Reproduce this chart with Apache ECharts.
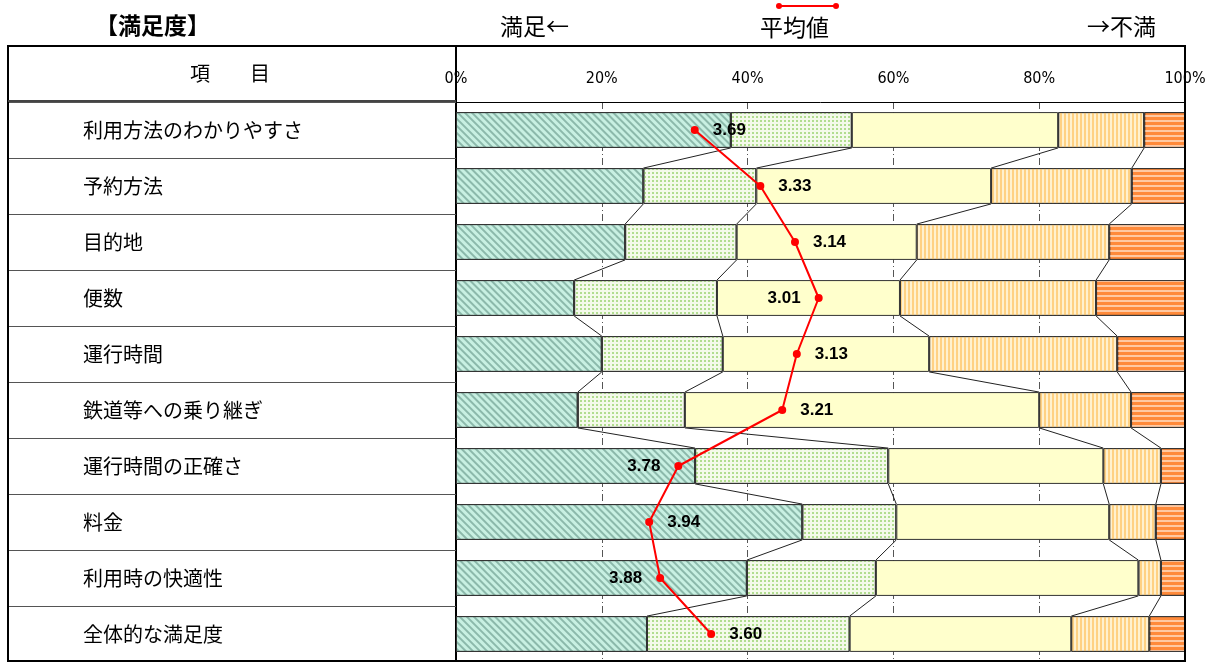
<!DOCTYPE html>
<html>
<head>
<meta charset="utf-8">
<script src="https://cdn.jsdelivr.net/npm/echarts@6.0.0/dist/echarts.min.js"></script>
<style>
html,body{margin:0;padding:0;background:#fff;}
#chart{width:1213px;height:662px;}
</style>
</head>
<body>
<div id="chart"></div>
<script>
// ---- data ----
const categories = ['利用方法のわかりやすさ','予約方法','目的地','便数','運行時間','鉄道等への乗り継ぎ','運行時間の正確さ','料金','利用時の快適性','全体的な満足度'];
const seriesNames = ['満足','やや満足','普通','やや不満','不満'];
const satisfied = [37.7,25.7,23.2,16.2,20.0,16.7,32.8,47.5,39.9,26.2];
const somewhatSatisfied = [16.6,15.5,15.3,19.6,16.6,14.7,26.5,12.9,17.7,27.8];
const neutral = [28.3,32.2,24.7,25.1,28.3,48.6,29.5,29.2,36.0,30.4];
const somewhatDissatisfied = [11.8,19.3,26.4,26.9,25.8,12.6,7.9,6.4,3.1,10.7];
const dissatisfied = [5.6,7.3,10.4,12.2,9.3,7.4,3.3,4.0,3.3,4.9];
const averages = [3.69,3.33,3.14,3.01,3.13,3.21,3.78,3.94,3.88,3.60];
const averageName = '平均値';

// ---- build ----
const groups = [satisfied, somewhatSatisfied, neutral, somewhatDissatisfied, dissatisfied];
const cum = categories.map((c, i) => {
  let s = 0; const out = [];
  for (let g = 0; g < groups.length - 1; g++) { s += groups[g][i]; out.push(s); }
  return out;
});
const connectorData = [];
for (let k = 0; k < categories.length - 1; k++) {
  for (let j = 0; j < cum[k].length; j++) {
    connectorData.push([cum[k][j], k, cum[k + 1][j], k + 1]);
  }
}
const leftLabelRows = [3, 6, 8];
const BAR_RATIO = 0.64;

const styles = [
  { color: '#c8f0e2', decal: { symbol: 'rect', symbolSize: 1, color: 'rgba(80,130,115,0.5)', dashArrayX: [1, 0], dashArrayY: [1.3, 2.5], rotation: Math.PI / 4 } },
  { color: '#f4faea', decal: { symbol: 'rect', symbolSize: 1, color: 'rgba(160,214,120,0.8)', dashArrayX: [1.5, 1.5], dashArrayY: [1.5, 1.5], rotation: 0 } },
  { color: '#ffffcc', decal: null },
  { color: '#fff1cf', decal: { symbol: 'rect', symbolSize: 1, color: '#ffd183', dashArrayX: [2, 2], dashArrayY: [10, 0], rotation: 0 } },
  { color: '#ff8a3a', decal: { symbol: 'rect', symbolSize: 1, color: '#ffc9a2', dashArrayX: [10, 0], dashArrayY: [1.6, 2.4], rotation: 0 } }
];

const jpFont = '"Noto Sans CJK JP", sans-serif';

const barSeries = groups.map((arr, g) => ({
  name: seriesNames[g],
  type: 'bar',
  stack: 'total',
  xAxisIndex: 0,
  yAxisIndex: 0,
  barWidth: (BAR_RATIO * 100) + '%',
  data: arr,
  itemStyle: Object.assign({ color: styles[g].color, borderColor: '#333', borderWidth: 1 }, styles[g].decal ? { decal: styles[g].decal } : {}),
  emphasis: { disabled: true },
  z: 3
}));

const option = {
  animation: false,
  backgroundColor: '#fff',
  grid: { left: 456, right: 28, top: 102, bottom: 0, containLabel: false },
  xAxis: [
    {
      type: 'value', position: 'top', min: 0, max: 100, interval: 20,
      axisLine: { show: true, lineStyle: { color: '#000', width: 1 } },
      axisTick: { show: false },
      axisLabel: { formatter: '{value}%', color: '#000', fontSize: 16, fontFamily: '"Liberation Sans Narrow", "DejaVu Sans Condensed", sans-serif', margin: 15 },
      splitLine: { show: true, lineStyle: { color: '#555', width: 1, type: [7, 3, 1, 3] } }
    },
    { type: 'value', min: 1, max: 5, inverse: true, show: false }
  ],
  yAxis: [{
    type: 'category', data: categories, inverse: true,
    axisLine: { show: true, lineStyle: { color: '#000', width: 2 } },
    axisTick: { show: true, length: 448, lineStyle: { color: '#555', width: 1 } },
    axisLabel: { align: 'left', margin: 373, fontSize: 20, color: '#000', fontFamily: jpFont },
    splitLine: { show: false }
  }],
  series: barSeries.concat([
    {
      type: 'custom',
      xAxisIndex: 0, yAxisIndex: 0,
      data: connectorData,
      encode: { x: [0, 2], y: [1, 3] },
      z: 2,
      silent: true,
      renderItem: function (params, api) {
        const a = api.coord([api.value(0), api.value(1)]);
        const b = api.coord([api.value(2), api.value(3)]);
        const band = api.size([0, 1])[1];
        const half = band * BAR_RATIO / 2;
        return {
          type: 'line',
          shape: { x1: a[0], y1: a[1] + half, x2: b[0], y2: b[1] - half },
          style: { stroke: '#222', lineWidth: 1 }
        };
      }
    },
    {
      name: averageName,
      type: 'line',
      xAxisIndex: 1, yAxisIndex: 0,
      data: averages.map((v, i) => ({
        value: [v, i],
        label: { position: leftLabelRows.indexOf(i) >= 0 ? 'left' : 'right' }
      })),
      symbol: 'circle', symbolSize: 8,
      lineStyle: { color: '#ff0000', width: 2 },
      itemStyle: { color: '#ff0000' },
      label: {
        show: true, distance: 14, color: '#000', fontWeight: 'bold', fontSize: 17,
        fontFamily: '"Liberation Sans", Arial, sans-serif',
        formatter: p => p.value[0].toFixed(2)
      },
      emphasis: { disabled: true },
      z: 10
    }
  ]),
  graphic: [
    { type: 'rect', shape: { x: 8, y: 46, width: 1177, height: 615 }, style: { fill: 'none', stroke: '#000', lineWidth: 2 }, z: 100, silent: true },
    { type: 'line', shape: { x1: 456, y1: 46, x2: 456, y2: 102 }, style: { stroke: '#000', lineWidth: 2 }, z: 100, silent: true },
    { type: 'line', shape: { x1: 8, y1: 101, x2: 456, y2: 101 }, style: { stroke: '#444', lineWidth: 2 }, z: 100, silent: true },
    { type: 'text', x: 95, y: 25, style: { text: '【満足度】', font: 'bold 23px "Noto Sans CJK JP", sans-serif', fill: '#000', textVerticalAlign: 'middle', verticalAlign: 'middle' }, z: 100 },
    { type: 'text', x: 500, y: 26, style: { text: '満足←', font: '23px "Noto Sans CJK JP", sans-serif', fill: '#000', textVerticalAlign: 'middle', verticalAlign: 'middle' }, z: 100 },
    { type: 'text', x: 760, y: 27, style: { text: averageName, font: '23px "Noto Sans CJK JP", sans-serif', fill: '#000', textVerticalAlign: 'middle', verticalAlign: 'middle' }, z: 100 },
    { type: 'text', x: 1087, y: 26, style: { text: '→不満', font: '23px "Noto Sans CJK JP", sans-serif', fill: '#000', textVerticalAlign: 'middle', verticalAlign: 'middle' }, z: 100 },
    { type: 'text', x: 230, y: 73, style: { text: '項　　目', font: '20px "Noto Sans CJK JP", sans-serif', fill: '#000', textAlign: 'center', align: 'center', textVerticalAlign: 'middle', verticalAlign: 'middle' }, z: 100 },
    { type: 'line', shape: { x1: 779, y1: 6, x2: 836, y2: 6 }, style: { stroke: '#ff0000', lineWidth: 2 }, z: 100, silent: true },
    { type: 'circle', shape: { cx: 779, cy: 6, r: 3 }, style: { fill: '#ff0000' }, z: 100, silent: true },
    { type: 'circle', shape: { cx: 836, cy: 6, r: 3 }, style: { fill: '#ff0000' }, z: 100, silent: true }
  ]
};

const chart = echarts.init(document.getElementById('chart'), null, { renderer: 'canvas' });
chart.setOption(option);
</script>
</body>
</html>
